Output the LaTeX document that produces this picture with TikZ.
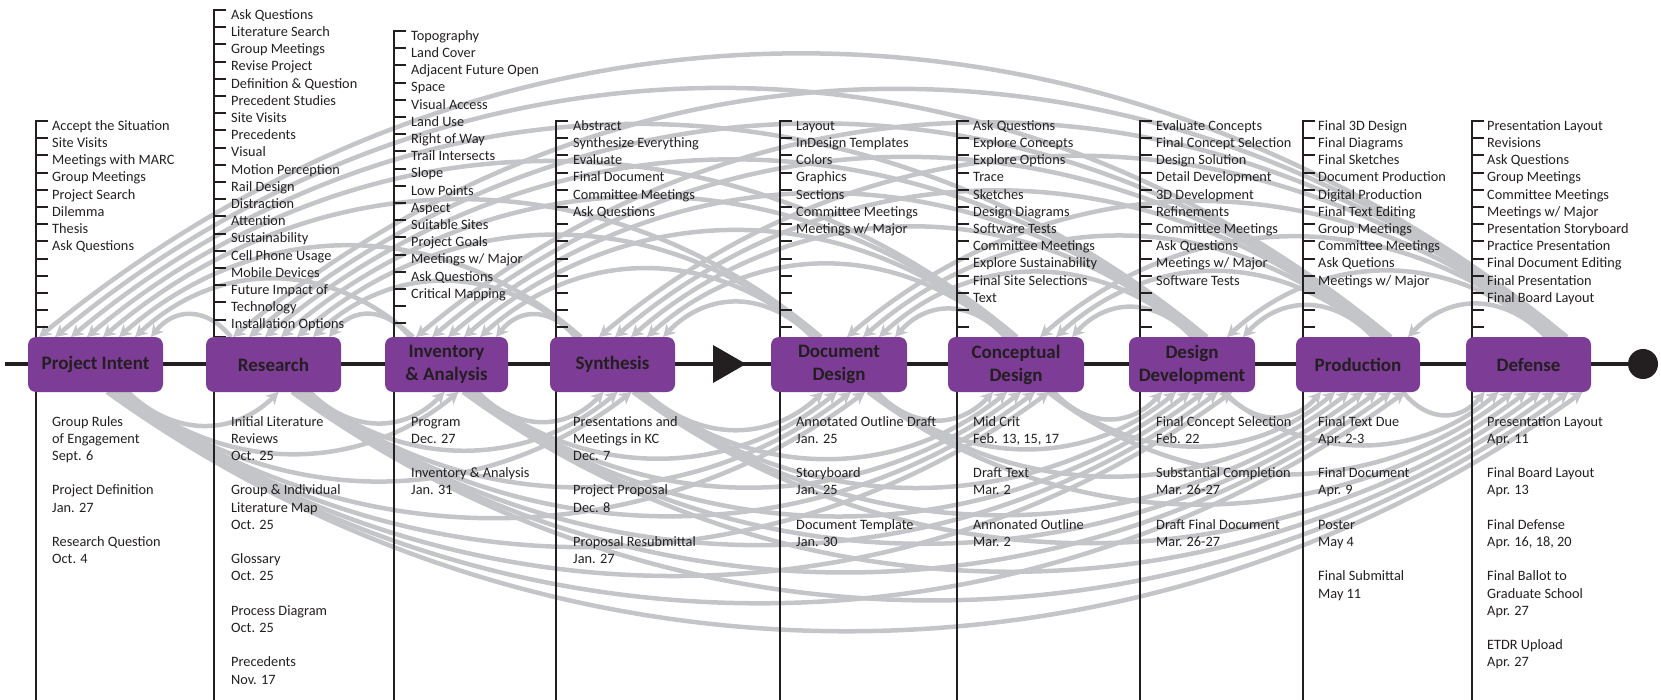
\documentclass[tikz,border=0pt]{standalone}
\usepackage{fontspec}
\setmainfont{Carlito}
\usetikzlibrary{arrows.meta}
\definecolor{ink}{RGB}{35,31,32}
\definecolor{stagepurple}{RGB}{125,60,150}
\definecolor{arcgrey}{RGB}{196,197,200}
\pgfdeclarelayer{background}
\pgfdeclarelayer{middle}
\pgfsetlayers{background,middle,main}
\tikzset{
  stage/.style={fill=stagepurple, rounded corners=8pt, inner sep=0pt, outer sep=0pt,
    minimum height=55pt, text=ink, font=\fontsize{19}{23}\selectfont\bfseries, align=center},
  item/.style={anchor=base west, inner sep=0pt, text=ink, font=\fontsize{14.3}{17}\selectfont},
  vline/.style={draw=ink, line width=2.2pt},
  tickline/.style={draw=ink, line width=2pt},
  mainline/.style={draw=ink, line width=4pt},
  feedback/.style={draw=arcgrey, line width=4.5pt, -{Stealth[length=12pt,width=13pt,inset=3.5pt]}},
  feedforward/.style={draw=arcgrey, line width=4.5pt, -{Stealth[length=12pt,width=13pt,inset=3.5pt]}},
}
% #1 name, #2 line x, #3 top y, #4 ticks-1, #5 text x, #6 items
\newcommand\mytoplist[6]{%
  \draw[vline] (#2+12,#3) -- (#2,#3) -- (#2,700);
  \foreach \tk in {1,...,#4} \draw[tickline] (#2,#3+17.2*\tk) -- (#2+12,#3+17.2*\tk);
  \foreach \itm [count=\ik from 0] in {#6} \node[item] (#1-t\ik) at (#5,#3+17.2*\ik+9.3) {\itm};
}
% #1 name, #2 text x, #3 lines
\newcommand\mybotlist[3]{%
  \foreach \itm [count=\ik from 0] in {#3} \node[item] (#1-b\ik) at (#2,426+17.2*\ik) {\itm};
}
\def\Ls{{28,206,385,550,771,948,1129,1296,1466}}
\def\Rs{{163,341,508,675,907,1084,1255,1420,1591}}
\def\Ds{{0,231,410,575,812,1005,1192,1373,1546}}
\def\Bs{{128,310,478,645,877,1054,1225,1403,0}}
\begin{document}
\begin{tikzpicture}[x=1pt,y=-1pt]
\useasboundingbox (0,0) rectangle (1661,700);
% stages
\node[stage, minimum width=135pt] (b0) at (95.5,364.5) {Project Intent};
\node[stage, minimum width=135pt] (b1) at (273.5,364.5) {Research};
\node[stage, minimum width=123pt] (b2) at (446.5,364.5) {Inventory\\\& Analysis};
\node[stage, minimum width=125pt] (b3) at (612.5,364.5) {Synthesis};
\node[stage, minimum width=136pt] (b4) at (839,364.5) {Document\\Design};
\node[stage, minimum width=136pt] (b5) at (1016,364.5) {Conceptual\\Design};
\node[stage, minimum width=126pt] (b6) at (1192,364.5) {Design\\Development};
\node[stage, minimum width=124pt] (b7) at (1358,364.5) {Production};
\node[stage, minimum width=125pt] (b8) at (1528.5,364.5) {Defense};
\node[circle, fill=ink, minimum size=30pt, inner sep=0pt, outer sep=0pt] (endc) at (1643,364) {};
% grey arcs
\begin{pgfonlayer}{background}
\foreach \j in {1,...,8}{
  \pgfmathtruncatemacro\arcJm{\j-1}
  \pgfmathsetmacro\arcLj{\Ls[\j]}
  \pgfmathsetmacro\arcRj{\Rs[\j]}
  \pgfmathsetmacro\arcDj{\Ds[\j]}
  \foreach \i in {0,...,\arcJm}{
    \pgfmathsetmacro\arcRi{\Rs[\i]}
    \pgfmathsetmacro\arcBi{\Bs[\i]}
    \pgfmathtruncatemacro\arcK{\j-\i-1}
    \pgfmathsetmacro\arcXs{\arcDj+3*\arcK}
    \pgfmathsetmacro\arcXe{\arcRi-12-16*\arcK}
    \pgfmathsetmacro\arcD{\arcXs-\arcXe}
    \pgfmathsetmacro\arcC{4/3*(0.18*\arcD+8)}
    \pgfmathsetmacro\arcDs{\arcXs-\arcLj}
    \pgfmathsetmacro\arcDe{12+16*\arcK}
    \draw[feedback] ([xshift=\arcDs pt]b\j.north west) .. controls +(-0.3*\arcD,-\arcC) and +(0.3*\arcD,-\arcC) .. ([xshift=-\arcDe pt]b\i.north east);
    \pgfmathsetmacro\arcXb{\arcBi-3*\arcK}
    \pgfmathsetmacro\arcXf{(\arcLj+\arcRj)/2+5+((\j-1)/2-\i)*14}
    \pgfmathsetmacro\arcDb{\arcXf-\arcXb}
    \pgfmathsetmacro\arcCb{4/3*(0.155*\arcDb+10)}
    \pgfmathsetmacro\arcBs{\arcRi-\arcXb}
    \pgfmathsetmacro\arcFe{\arcXf-\arcLj}
    \draw[feedforward] ([xshift=-\arcBs pt]b\i.south east) .. controls +(0.3*\arcDb,\arcCb) and +(-0.3*\arcDb,\arcCb) .. ([xshift=\arcFe pt]b\j.south west);
  }
}
\end{pgfonlayer}
\begin{pgfonlayer}{middle}
\coordinate (lstart) at (5,364);
\draw[mainline] (lstart) -- (endc);
\fill[ink] (713,345) -- (746,364) -- (713,383) -- cycle;
\mytoplist{pi}{36}{121}{12}{52}{Accept the Situation, Site Visits, Meetings with MARC, Group Meetings, Project Search, Dilemma, Thesis, Ask Questions}
\mytoplist{res}{214}{10}{19}{231}{Ask Questions, Literature Search, Group Meetings, Revise Project, Definition \& Question, Precedent Studies, Site Visits, Precedents, Visual, Motion Perception, Rail Design, Distraction, Attention, Sustainability, Cell Phone Usage, Mobile Devices, Future Impact of, Technology, Installation Options}
\mytoplist{inv}{394}{31}{17}{411}{Topography, Land Cover, Adjacent Future Open, Space, Visual Access, Land Use, Right of Way, Trail Intersects, Slope, Low Points, Aspect, Suitable Sites, Project Goals, Meetings w/ Major, Ask Questions, Critical Mapping}
\mytoplist{syn}{556}{121}{12}{573}{Abstract, Synthesize Everything, Evaluate, Final Document, Committee Meetings, Ask Questions}
\mytoplist{doc}{780}{121}{12}{796}{Layout, InDesign Templates, Colors, Graphics, Sections, Committee Meetings, Meetings w/ Major}
\mytoplist{con}{957}{121}{12}{973}{Ask Questions, Explore Concepts, Explore Options, Trace, Sketches, Design Diagrams, Software Tests, Committee Meetings, Explore Sustainability, Final Site Selections, Text}
\mytoplist{dev}{1140}{121}{12}{1156}{Evaluate Concepts, Final Concept Selection, Design Solution, Detail Development, 3D Development, Refinements, Committee Meetings, Ask Questions, Meetings w/ Major, Software Tests}
\mytoplist{pro}{1303}{121}{12}{1318}{Final 3D Design, Final Diagrams, Final Sketches, Document Production, Digital Production, Final Text Editing, Group Meetings, Committee Meetings, Ask Quetions, Meetings w/ Major}
\mytoplist{def}{1472}{121}{12}{1487}{Presentation Layout, Revisions, Ask Questions, Group Meetings, Committee Meetings, Meetings w/ Major, Presentation Storyboard, Practice Presentation, Final Document Editing, Final Presentation, Final Board Layout}
\mybotlist{pi}{52}{Group Rules, of Engagement, Sept. 6, , Project Definition, Jan. 27, , Research Question, Oct. 4}
\mybotlist{res}{231}{Initial Literature, Reviews, Oct. 25, , Group \& Individual, Literature Map, Oct. 25, , Glossary, Oct. 25, , Process Diagram, Oct. 25, , Precedents, Nov. 17}
\mybotlist{inv}{411}{Program, Dec. 27, , Inventory \& Analysis, Jan. 31}
\mybotlist{syn}{573}{Presentations and, Meetings in KC, Dec. 7, , Project Proposal, Dec. 8, , Proposal Resubmittal, Jan. 27}
\mybotlist{doc}{796}{Annotated Outline Draft, Jan. 25, , Storyboard, Jan. 25, , Document Template, Jan. 30}
\mybotlist{con}{973}{Mid Crit, {Feb. 13, 15, 17}, , Draft Text, Mar. 2, , Annonated Outline, Mar. 2}
\mybotlist{dev}{1156}{Final Concept Selection, Feb. 22, , Substantial Completion, Mar. 26-27, , Draft Final Document, Mar. 26-27}
\mybotlist{pro}{1318}{Final Text Due, Apr. 2-3, , Final Document, Apr. 9, , Poster, May 4, , Final Submittal, May 11}
\mybotlist{def}{1487}{Presentation Layout, Apr. 11, , Final Board Layout, Apr. 13, , Final Defense, {Apr. 16, 18, 20}, , Final Ballot to, Graduate School, Apr. 27, , ETDR Upload, Apr. 27}
\end{pgfonlayer}
\end{tikzpicture}
\end{document}
